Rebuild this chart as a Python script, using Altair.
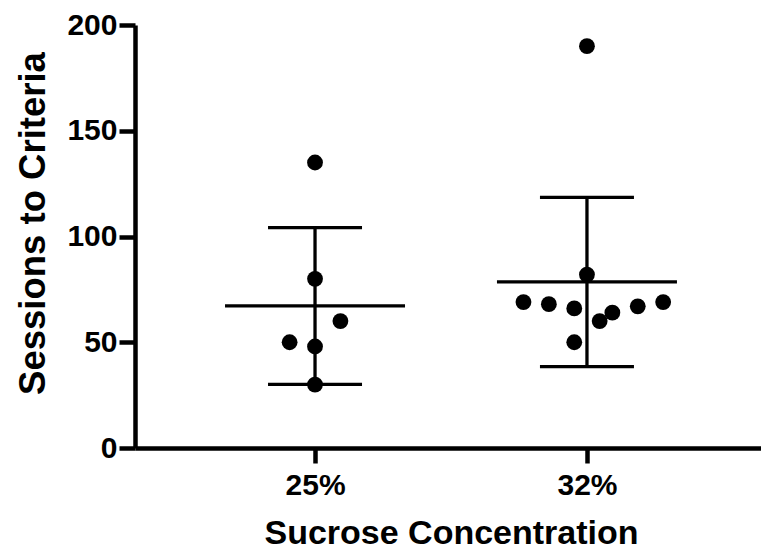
import json
import altair as alt
import pandas as pd

# ---- data ----
groups = ["25%", "32%"]
sessions_25 = [135, 80, 60, 50, 48, 30]
sessions_32 = [190, 82, 69, 68, 66, 60, 64, 67, 69, 50]
# horizontal scatter slots (dot-plot spreading of overlapping points)
slot_25 = [0, 0, 2, -2, 0, 0]
slot_32 = [0, 0, -5, -3, -1, 1, 2, 4, 6, -1]
y_ticks = [0, 50, 100, 150, 200]

rows = []
for gi, (vals, slots) in enumerate([(sessions_25, slot_25), (sessions_32, slot_32)]):
    for v, s in zip(vals, slots):
        rows.append({"group": groups[gi], "gidx": gi, "slot": s, "sessions": v})
df = pd.DataFrame(rows)

FONT = "Liberation Sans"
SLOT = 0.0467

x_scale = alt.Scale(domain=[-0.662, 1.64], nice=False, zero=False)
y_scale = alt.Scale(domain=[0, 200], nice=False)

x_axis = alt.Axis(
    values=[0, 1],
    labelExpr=f"{json.dumps(groups)}[datum.value]",
    title="Sucrose Concentration",
    tickSize=15, tickWidth=4.5, domainWidth=4.5,
    labelPadding=7, labelFontSize=30, labelFontWeight="bold",
    titleFontSize=34, titleFontWeight="bold",
    titleX=316, titleY=95, titleBaseline="alphabetic", titleAlign="center",
    grid=False,
)
y_axis = alt.Axis(
    values=y_ticks,
    title="Sessions to Criteria",
    tickSize=16, tickWidth=4.5, domainWidth=4.5,
    labelPadding=2, labelFontSize=30, labelFontWeight="bold",
    titleFontSize=36.5, titleFontWeight="bold",
    titleX=-91, titleY=198, titleBaseline="alphabetic", titleAlign="center",
    titleAngle=270,
    grid=False,
)


def X(field):
    return alt.X(field, type="quantitative", scale=x_scale, axis=x_axis)


def Y(field):
    return alt.Y(field, type="quantitative", scale=y_scale, axis=y_axis)


base = alt.Chart(df)

stats = base.transform_aggregate(
    mean_s="mean(sessions)", sd_s="stdev(sessions)", groupby=["gidx"]
).transform_calculate(
    lo="datum.mean_s - datum.sd_s", hi="datum.mean_s + datum.sd_s"
)

vrule = stats.mark_rule(color="black", strokeWidth=3.3).encode(
    x=X("gidx"), y=Y("lo"), y2="hi:Q"
)
mean_tick = stats.mark_tick(
    orient="horizontal", size=180, thickness=3.3, color="black", opacity=1
).encode(x=X("gidx"), y=Y("mean_s"))
cap_lo = stats.mark_tick(
    orient="horizontal", size=94, thickness=3.3, color="black", opacity=1
).encode(x=X("gidx"), y=Y("lo"))
cap_hi = stats.mark_tick(
    orient="horizontal", size=94, thickness=3.3, color="black", opacity=1
).encode(x=X("gidx"), y=Y("hi"))

points = base.transform_calculate(
    xpos=f"datum.gidx + datum.slot * {SLOT}"
).mark_circle(size=250, color="black", opacity=1).encode(
    x=X("xpos"), y=Y("sessions")
)

chart = alt.layer(vrule, mean_tick, cap_lo, cap_hi, points).properties(
    width=626,
    height=423,
    autosize=alt.AutoSizeParams(type="none"),
    padding={"left": 135, "top": 25, "right": 0, "bottom": 102},
    background="white",
).configure_view(stroke=None).configure_axis(
    domainColor="black", tickColor="black", labelColor="black",
    titleColor="black", labelFont=FONT, titleFont=FONT,
)

chart.save("out.html", embed_options={"renderer": "svg", "actions": False})
